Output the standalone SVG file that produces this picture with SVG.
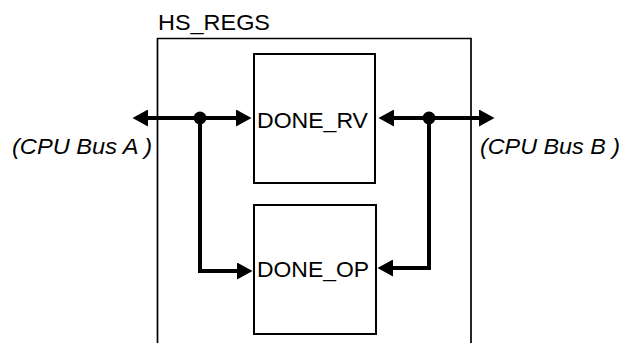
<svg xmlns="http://www.w3.org/2000/svg" width="624" height="343" viewBox="0 0 624 343">
<style>
.box{fill:#fff;stroke:#000;stroke-width:2}
.outer{fill:none;stroke:#000;stroke-width:1.7}
.bus{fill:none;stroke:#000;stroke-width:4;stroke-linejoin:miter}
.lbl{font-family:"Liberation Sans",Arial,sans-serif;font-size:22.5px;fill:#000}
.it{font-style:italic}
</style>
<defs>
<marker id="ah" markerUnits="userSpaceOnUse" markerWidth="16" markerHeight="17" refX="5" refY="8.5" orient="auto-start-reverse" viewBox="0 0 16 17">
<path d="M0,0 L15.5,8.5 L0,17 z" fill="#000"/>
</marker>
</defs>
<g id="hs_regs">
<path class="outer" d="M157.5,345 V38.5 H471 V345"/>
<text class="lbl" x="158" y="30" textLength="112" lengthAdjust="spacingAndGlyphs">HS_REGS</text>
</g>
<g id="done_rv">
<rect class="box" x="254" y="54" width="121" height="129"/>
<text class="lbl" x="257" y="128" textLength="111" lengthAdjust="spacingAndGlyphs">DONE_RV</text>
</g>
<g id="done_op">
<rect class="box" x="254" y="205" width="122" height="129"/>
<text class="lbl" x="257" y="277" textLength="112" lengthAdjust="spacingAndGlyphs">DONE_OP</text>
</g>
<g id="cpu_bus_a">
<text class="lbl it" x="12" y="154" textLength="140" lengthAdjust="spacingAndGlyphs">(CPU Bus A )</text>
</g>
<g id="cpu_bus_b">
<text class="lbl it" x="480" y="154" textLength="140" lengthAdjust="spacingAndGlyphs">(CPU Bus B )</text>
</g>
<g id="connectors">
<path class="bus" d="M143,118 H241" marker-start="url(#ah)" marker-end="url(#ah)"/>
<path class="bus" d="M200,118 V271 H242" marker-end="url(#ah)"/>
<circle cx="200" cy="118" r="6.5" fill="#000"/>
<path class="bus" d="M389,118 H484" marker-start="url(#ah)" marker-end="url(#ah)"/>
<path class="bus" d="M429,118 V268 H388" marker-end="url(#ah)"/>
<circle cx="429" cy="118" r="6.5" fill="#000"/>
</g>
</svg>
